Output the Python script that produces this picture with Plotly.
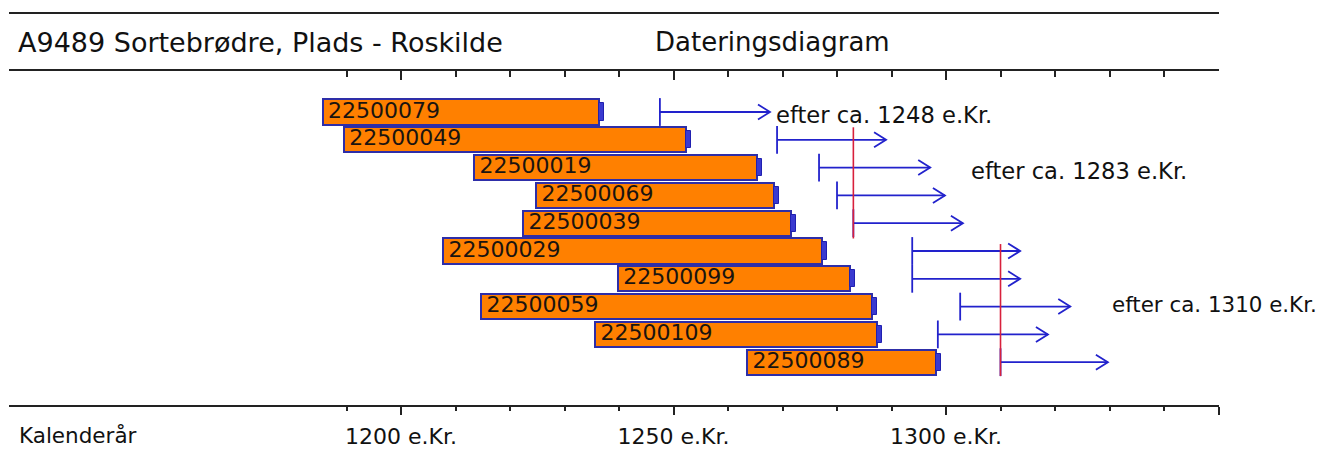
import plotly.graph_objects as go

# ---- data ----
samples = ["22500079", "22500049", "22500019", "22500069", "22500039",
           "22500029", "22500099", "22500059", "22500109", "22500089"]
bar_start = [1185.6, 1189.5, 1213.4, 1224.8, 1222.4, 1207.7, 1239.8, 1214.7, 1235.6, 1263.5]
bar_end = [1236.3, 1252.3, 1265.3, 1268.4, 1271.6, 1277.3, 1282.4, 1286.4, 1287.3, 1298.2]
arrow_start = [1247.5, 1269.0, 1276.7, 1280.0, 1283.0, 1293.8, 1293.8, 1302.6, 1298.5, 1310.0]
arrow_end = [1267.7, 1289.0, 1297.1, 1299.8, 1303.1, 1313.6, 1313.6, 1322.8, 1318.7, 1329.7]
cut_years = [1283, 1310]
cut_row_top = [0.55, 4.75]
cut_row_bottom = [4.55, 9.5]
labels_after = ["efter ca. 1248 e.Kr.", "efter ca. 1283 e.Kr.", "efter ca. 1310 e.Kr."]
major_ticks = [1200, 1250, 1300, 1350]
major_text = ["1200 e.Kr.", "1250 e.Kr.", "1300 e.Kr.", ""]
minor_ticks = [1190, 1210, 1220, 1230, 1240, 1260, 1270, 1280, 1290, 1310, 1320, 1330, 1340]
title_left = "A9489 Sortebrødre, Plads - Roskilde"
title_mid = "Dateringsdiagram"
axis_name = "Kalenderår"

FONT = "DejaVu Sans"
rows = list(range(len(samples)))
ORANGE = "#FF8000"
BARLINE = "#2e2ea8"
BLUE = "#2222cc"
RED = "#d8203c"

fig = go.Figure()

# main bars
fig.add_trace(go.Bar(
    orientation="h", y=rows, base=bar_start,
    x=[e - s for s, e in zip(bar_start, bar_end)],
    width=0.9, marker=dict(color=ORANGE, line=dict(color=BARLINE, width=2)),
    hoverinfo="skip", showlegend=False))
# small end tabs
fig.add_trace(go.Bar(
    orientation="h", y=rows, base=bar_end, x=[0.9] * len(rows),
    width=0.62, marker=dict(color="#3a3ad0", line=dict(color="#2020b0", width=1)),
    hoverinfo="skip", showlegend=False))
# bar labels
fig.add_trace(go.Scatter(
    x=[s + 1.0 for s in bar_start], y=rows, mode="text", text=samples,
    textposition="middle right",
    textfont=dict(family=FONT, size=22, color="#1a1410"),
    hoverinfo="skip", showlegend=False, cliponaxis=False))

# arrows
hx, hy = [], []
for r, (s, e) in enumerate(zip(arrow_start, arrow_end)):
    hx += [s, e, None, s, s, None, e - 2.2, e, e - 2.2, None]
    hy += [r, r, None, r - 0.5, r + 0.5, None, r - 0.27, r, r + 0.27, None]
fig.add_trace(go.Scatter(x=hx, y=hy, mode="lines", line=dict(color=BLUE, width=1.8),
                         hoverinfo="skip", showlegend=False, cliponaxis=False))

# red cut lines
rx, ry = [], []
for c, t, b in zip(cut_years, cut_row_top, cut_row_bottom):
    rx += [c, c, None]
    ry += [t, b, None]
fig.add_trace(go.Scatter(x=rx, y=ry, mode="lines", line=dict(color=RED, width=1.6),
                         hoverinfo="skip", showlegend=False))

# invisible trace to activate the top axis
fig.add_trace(go.Scatter(x=[1250], y=[0], xaxis="x2", mode="markers",
                         marker=dict(opacity=0), hoverinfo="skip", showlegend=False))

LBL = dict(family=FONT, size=22.6, color="#111")
annotations = [
    dict(x=1268.4, y=0.1, xref="x", yref="y", text=labels_after[0], showarrow=False,
         xanchor="left", yanchor="middle", font=LBL),
    dict(x=1304.2, y=2.12, xref="x", yref="y", text=labels_after[1], showarrow=False,
         xanchor="left", yanchor="middle", font=LBL),
    dict(x=1330.0, y=6.94, xref="x", yref="y", text=labels_after[2], showarrow=False,
         xanchor="left", yanchor="middle", font=dict(family=FONT, size=21.4, color="#111")),
    dict(x=0.0055, y=1.0868, xref="paper", yref="paper", text=title_left, showarrow=False,
         xanchor="left", yanchor="middle", font=dict(family=FONT, size=27, color="#111")),
    dict(x=0.532, y=1.0868, xref="paper", yref="paper", text=title_mid, showarrow=False,
         xanchor="left", yanchor="middle", font=dict(family=FONT, size=26, color="#111")),
    dict(x=0.0066, y=-0.0928, xref="paper", yref="paper", text=axis_name, showarrow=False,
         xanchor="left", yanchor="middle", font=dict(family=FONT, size=21.5, color="#111")),
]

XR = [1128.07, 1350.09]
# page body has an 8px margin: figure is 1318x449 placed at (8, 8)
fig.update_layout(
    width=1318, height=449,
    margin=dict(l=1, r=107, t=63, b=52, pad=0),
    plot_bgcolor="white", paper_bgcolor="white",
    barmode="overlay", bargap=0,
    annotations=annotations,
    shapes=[dict(type="line", xref="paper", yref="paper", x0=0, x1=1, y0=1.1737, y1=1.1737,
                 line=dict(color="#222", width=2))],
    xaxis=dict(range=XR, showgrid=False, zeroline=False, showline=True, linecolor="#222",
               linewidth=2, ticks="outside", tickmode="array", tickvals=major_ticks,
               ticktext=major_text, ticklen=8, tickwidth=1.5, tickcolor="#222",
               ticklabelstandoff=3,
               tickfont=dict(family=FONT, size=22, color="#111"),
               minor=dict(tickmode="array", tickvals=minor_ticks, ticklen=4,
                          tickwidth=1.5, tickcolor="#222", ticks="outside", showgrid=False)),
    xaxis2=dict(range=XR, overlaying="x", side="top", showgrid=False, zeroline=False,
                showline=True, linecolor="#222", linewidth=2, ticks="inside",
                tickmode="array", tickvals=major_ticks, ticklen=9, tickwidth=1.5,
                tickcolor="#222", showticklabels=False,
                minor=dict(tickmode="array", tickvals=minor_ticks, ticklen=6,
                           tickwidth=1.5, tickcolor="#222", ticks="inside", showgrid=False)),
    yaxis=dict(range=[10.54, -1.475], visible=False, showgrid=False, zeroline=False),
)

fig.write_html("out.html")
